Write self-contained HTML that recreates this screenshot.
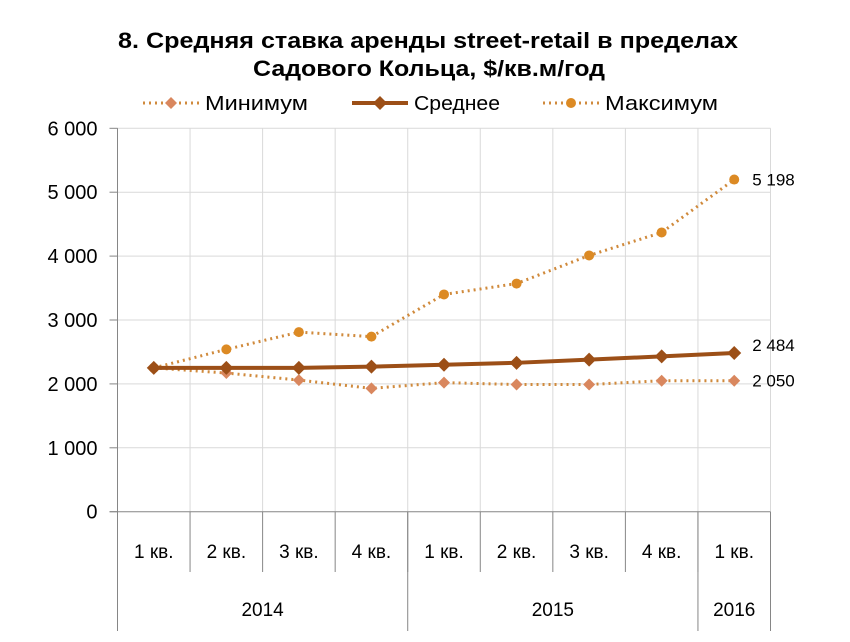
<!DOCTYPE html>
<html><head><meta charset="utf-8"><style>
body{margin:0;background:#fff;}
svg{display:block;font-family:"Liberation Sans",sans-serif;}
</style></head><body>
<svg id="chart" width="850" height="642" viewBox="0 0 850 642">
<rect width="850" height="642" fill="#fff"/>
<text x="118" y="48" textLength="620" lengthAdjust="spacingAndGlyphs" font-size="22" font-weight="bold">8. Средняя ставка аренды street-retail в пределах</text>
<text x="253" y="76" textLength="352" lengthAdjust="spacingAndGlyphs" font-size="22" font-weight="bold">Садового Кольца, $/кв.м/год</text>
<g>
 <g>
  <line x1="143" y1="103" x2="200" y2="103" stroke="#d08a3c" stroke-width="3" stroke-dasharray="2,4"/>
  <path d="M171 97 L177 103 L171 109 L165 103Z" fill="#d9875e"/>
  <text x="205" y="110" font-size="20" textLength="103" lengthAdjust="spacingAndGlyphs">Минимум</text>
 </g>
 <g>
  <line x1="352" y1="103" x2="408" y2="103" stroke="#9c4f17" stroke-width="4"/>
  <path d="M380 96 L387 103 L380 110 L373 103Z" fill="#9c4f17"/>
  <text x="414" y="110" font-size="20" textLength="86" lengthAdjust="spacingAndGlyphs">Среднее</text>
 </g>
 <g>
  <line x1="543" y1="103" x2="599" y2="103" stroke="#d08a3c" stroke-width="3" stroke-dasharray="2,4"/>
  <circle cx="571" cy="103" r="5" fill="#dc8a24"/>
  <text x="605" y="110" font-size="20" textLength="113" lengthAdjust="spacingAndGlyphs">Максимум</text>
 </g>
</g>
<g id="grid"></g><g id="axes"></g><g id="series"></g>
</svg>
<script>
const categories=["1 кв.","2 кв.","3 кв.","4 кв.","1 кв.","2 кв.","3 кв.","4 кв.","1 кв."];
const years=["2014","2015","2016"];
const yearSpans=[4,4,1];
const minVals=[2250,2170,2060,1930,2020,1990,1990,2050,2050];
const avgVals=[2250,2250,2250,2270,2300,2330,2380,2430,2484];
const maxVals=[2250,2540,2810,2740,3400,3570,4010,4370,5198];
const yTicks=[0,1000,2000,3000,4000,5000,6000];
const yTickLabels=["0","1 000","2 000","3 000","4 000","5 000","6 000"];
const endLabels=["2 050","2 484","5 198"];

const NS="http://www.w3.org/2000/svg";
const L=117.5,R=770.5,T=128.3,B=511.7,YMAX=6000;
const step=(R-L)/categories.length;
const xAt=i=>L+step*(i+0.5);
const yAt=v=>B-(v/YMAX)*(B-T);
function mk(tag,attrs,parent){const e=document.createElementNS(NS,tag);for(const k in attrs)e.setAttribute(k,attrs[k]);parent.appendChild(e);return e;}
const grid=document.getElementById('grid'),axes=document.getElementById('axes'),ser=document.getElementById('series');
yTicks.forEach((v,i)=>{
 const y=yAt(v);
 if(v>0){const g=mk('line',{x1:L,x2:R,y1:y,y2:y,stroke:'#d9d9d9','stroke-width':1},grid);
 
 }
 const t=mk('line',{x1:L-8,x2:L,y1:y,y2:y,stroke:'#868686'},axes);
 
 
 const tx=mk('text',{x:L-20,y:y+7,'text-anchor':'end','font-size':20},axes);
 tx.textContent=yTickLabels[i];
 
 
});
for(let i=1;i<=categories.length;i++){
 const x=L+step*i;
 const g=mk('line',{x1:x,x2:x,y1:T,y2:B,stroke:'#d9d9d9'},grid);
 
 
}
mk('line',{x1:L,x2:L,y1:T,y2:B,stroke:'#868686'},axes);
mk('line',{x1:L-8,x2:R,y1:B,y2:B,stroke:'#868686'},axes);
categories.forEach((c,i)=>{
 const t=mk('text',{x:xAt(i),y:558,'text-anchor':'middle','font-size':19},axes);
 t.textContent=c;
 
 
 if(i>0) mk('line',{x1:L+step*i,x2:L+step*i,y1:B,y2:572,stroke:'#868686'},axes);
});
let acc=0;
mk('line',{x1:L,x2:L,y1:B,y2:631,stroke:'#868686'},axes);
years.forEach((yr,j)=>{
 const x0=L+step*acc;acc+=yearSpans[j];const x1=L+step*acc;
 mk('line',{x1:x1,x2:x1,y1:B,y2:631,stroke:'#868686'},axes);
 const t=mk('text',{x:(x0+x1)/2,y:616,'text-anchor':'middle','font-size':19},axes);
 t.textContent=yr;
 
 
});
function pts(a){return a.map((v,i)=>xAt(i)+','+yAt(v)).join(' ');}
const lmin=mk('polyline',{points:pts(minVals),fill:'none',stroke:'#d08a3c','stroke-width':3,'stroke-dasharray':'2,4'},ser);


const lmax=mk('polyline',{points:pts(maxVals),fill:'none',stroke:'#d08a3c','stroke-width':3,'stroke-dasharray':'2,4'},ser);


const lavg=mk('polyline',{points:pts(avgVals),fill:'none',stroke:'#9c4f17','stroke-width':4},ser);


maxVals.forEach((v,i)=>{const c=mk('circle',{cx:xAt(i),cy:yAt(v),r:5,fill:'#dc8a24'},ser);
 
 });
minVals.forEach((v,i)=>{const x=xAt(i),y=yAt(v);const p=mk('path',{d:`M${x} ${y-6}L${x+6} ${y}L${x} ${y+6}L${x-6} ${y}Z`,fill:'#d9875e'},ser);
 
 });
avgVals.forEach((v,i)=>{const x=xAt(i),y=yAt(v);const p=mk('path',{d:`M${x} ${y-7}L${x+7} ${y}L${x} ${y+7}L${x-7} ${y}Z`,fill:'#9c4f17'},ser);
 
 });
const n=categories.length-1;
[[minVals,endLabels[0],6],[avgVals,endLabels[1],-2],[maxVals,endLabels[2],6]].forEach(([arr,lab,dy])=>{
 const t=mk('text',{x:xAt(n)+18,y:yAt(arr[n])+dy,'font-size':17},ser);
 t.textContent=lab;
 
 
});
</script>
</body></html>
